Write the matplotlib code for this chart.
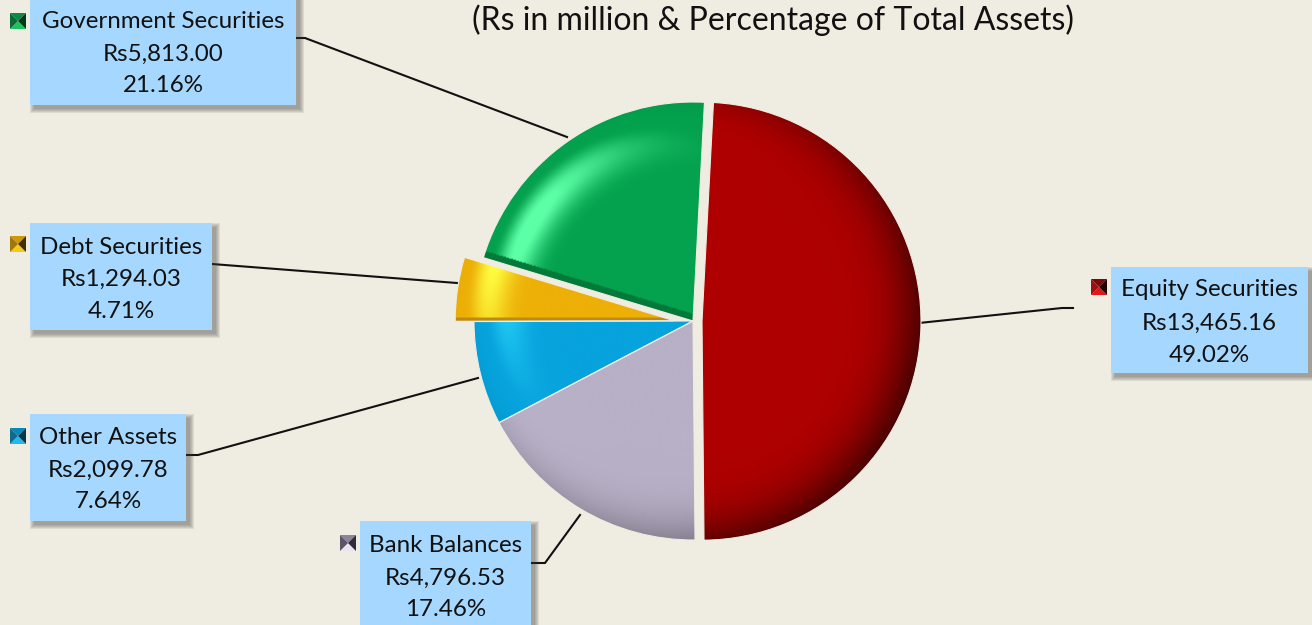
#!/usr/bin/env python3
# -*- coding: utf-8 -*-
import numpy as np
import matplotlib
matplotlib.use('Agg')
import matplotlib.pyplot as plt
from matplotlib.patches import Rectangle, Polygon
from matplotlib.colors import to_rgb

W, H = 1312, 625
BG = '#EFECE1'
BOX = '#A6D7FE'

#data
names = ['Equity Securities', 'Bank Balances', 'Other Assets', 'Debt Securities', 'Government Securities']
amounts = [13465.16, 4796.53, 2099.78, 1294.03, 5813.00]
amount_labels = ['Rs13,465.16', 'Rs4,796.53', 'Rs2,099.78', 'Rs1,294.03', 'Rs5,813.00']
percent_labels = ['49.02%', '17.46%', '7.64%', '4.71%', '21.16%']
#pie adds explode to the centre as it is, so these are pixels here
explode = [9, 0, 0, 19, 0]

#base, highlight, shade for each slice
base_cols = ['#AE0000', '#B8B0C6', '#07A3DD', '#EDB007', '#04A24E']
light_cols = ['#C80C0C', '#CCC4DA', '#30DFFF', '#FFFF40', '#5CFFA6']
dark_cols = ['#300000', '#625E6C', '#05709A', '#C08A10', '#037A3A']
key_cols = [('#E01818', '#7A0A0A', '#A01010', '#200000'),
            ('#E8E4F0', '#8A8698', '#5A5668', '#2E2C38'),
            ('#20B8F0', '#0888B8', '#0C6C90', '#06384C'),
            ('#F8C818', '#D09808', '#A07808', '#403004'),
            ('#20C060', '#0A8A42', '#0A6A34', '#033A1C')]

#box x0,y0,x1,y1 / text lines y / key x,y / leader line, all in image pixels
boxes = [(1111, 267, 1308, 373), (360, 521, 531, 632), (30, 414, 186, 521), (30, 223, 212, 330), (30, -8, 296, 105)]
text_ys = [(290, 323, 355), (546, 578, 610), (438, 470, 502), (247, 279, 311), (22, 54, 86)]
key_xy = [(1091, 279), (340, 535), (10, 428), (10, 236), (10, 13)]
leaders = [[(919, 323), (1062, 308), (1073, 308)],
           [(531, 563), (545, 563), (580, 515)],
           [(186, 455), (198, 455), (478, 378)],
           [(212, 264), (457, 283)],
           [(296, 38), (305, 38), (567, 137)]]


def py(y):
    return H - y


def shade_wedge(ax, w, base, light, dark, edge_band=None):
    #bevel look, rim normal tilts outward and gets lit from upper left
    x0, y0 = w.center
    R = w.r
    xs = np.arange(x0 - R, x0 + R + 1)
    ys = np.arange(y0 - R, y0 + R + 1)
    X, Y = np.meshgrid(xs, ys)
    dx, dy = X - x0, Y - y0
    r = np.hypot(dx, dy)
    th = np.arctan2(dy, dx)
    s = np.clip((r / R - 0.62) / 0.38, 0, 1) ** 1.8
    phi = s * np.pi / 2
    L = np.array([-0.55, 0.32, 0.77])
    d = np.sin(phi) * (np.cos(th) * L[0] + np.sin(th) * L[1]) + np.cos(phi) * L[2] - L[2]
    up = np.clip(d / 0.22, 0, 1)[..., None] ** 2.4
    dn = np.clip(-d / 1.7, 0, 1)[..., None] ** 1.25
    b, l, k = np.array(to_rgb(base)), np.array(to_rgb(light)), np.array(to_rgb(dark))
    img = b + (l - b) * up
    img = img + (k - img) * dn
    if edge_band is not None:
        #darker side strip along one straight edge of the slice
        t = np.deg2rad(w.theta2 if edge_band[0] == 'end' else w.theta1)
        dist = r * np.abs(np.sin(th - t))
        mask = (dist < edge_band[1]) & (np.cos(th - t) > 0)
        img[mask] = k
    im = ax.imshow(img, extent=(xs[0], xs[-1], ys[0], ys[-1]), origin='lower',
                   zorder=2, interpolation='bilinear', aspect='equal')
    im.set_clip_path(w)


def run():
    fig = plt.figure(figsize=(W / 100, H / 100), dpi=100, facecolor=BG)
    ax = fig.add_axes([0, 0, 1, 1])
    plt.rcParams['font.family'] = ['Lato', 'DejaVu Sans']

    wedges, _ = ax.pie(amounts, explode=explode, colors=base_cols, startangle=87, counterclock=False,
                       center=(693, py(321)), radius=219, frame=True,
                       wedgeprops={'linewidth': 0.8, 'edgecolor': BG})
    #debt slice sits pulled straight left in the picture, not along its middle
    cx, cy = wedges[3].center
    wedges[3].set_center((cx, cy - 2.5))

    bands = [None, None, None, ('end', 4), ('end', 7)]
    for i, w in enumerate(wedges):
        shade_wedge(ax, w, base_cols[i], light_cols[i], dark_cols[i], bands[i])
        w.set_zorder(3)
        w.set_facecolor('none')

    ax.set_xlim(0, W)
    ax.set_ylim(0, H)
    ax.set_aspect('auto')
    ax.axis('off')

    ax.text(773, py(20), '(Rs in million & Percentage of Total Assets)', fontsize=23,
            ha='center', va='center', color='#111111', zorder=6)

    for i, name in enumerate(names):
        line = leaders[i]
        ax.plot([p[0] for p in line], [py(p[1]) for p in line], color='#111111', lw=1.5, zorder=1)

        x0, y0, x1, y1 = boxes[i]
        #soft shadow, stacked see-through rectangles
        for grow in (4, 3, 2, 1, 0):
            ax.add_patch(Rectangle((x0 + 4 - grow, py(y1 + 4 + grow)), x1 - x0 + 2 * grow, y1 - y0 + 2 * grow,
                                   fc='#3A3A3A', ec='none', alpha=0.1, zorder=4))
        ax.add_patch(Rectangle((x0, py(y1)), x1 - x0, y1 - y0, fc=BOX, ec='none', zorder=5))

        xc = (x0 + x1) / 2
        lines = [name, amount_labels[i], percent_labels[i]]
        for s, y in zip(lines, text_ys[i]):
            ax.text(xc, py(y), s, fontsize=17.4, ha='center', va='center', color='#111111', zorder=6)

        #small pyramid legend key
        kx, ky = key_xy[i]
        c = (kx + 8, py(ky + 8))
        tl, tr = (kx, py(ky)), (kx + 16, py(ky))
        bl, br = (kx, py(ky + 16)), (kx + 16, py(ky + 16))
        bottom, top, left, right = key_cols[i]
        ax.add_patch(Polygon([bl, br, c], fc=bottom, ec='none', zorder=6))
        ax.add_patch(Polygon([tl, tr, c], fc=top, ec='none', zorder=6))
        ax.add_patch(Polygon([tl, bl, c], fc=left, ec='none', zorder=6))
        ax.add_patch(Polygon([tr, br, c], fc=right, ec='none', zorder=6))

    fig.savefig('out.png', dpi=100, facecolor=BG)


if __name__ == "__main__":
    run()
